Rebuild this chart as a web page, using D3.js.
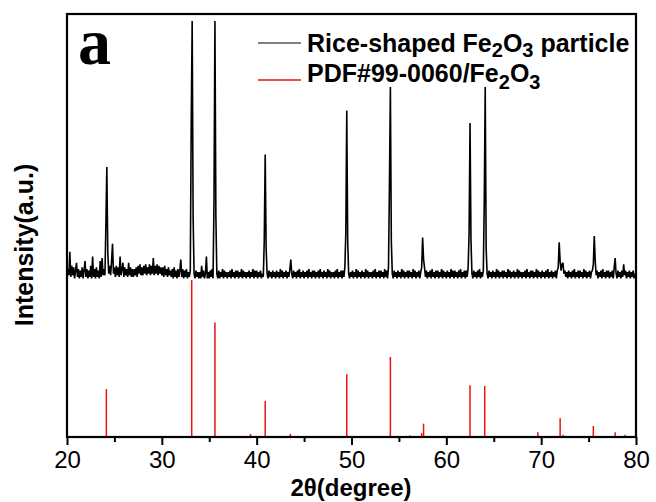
<!DOCTYPE html>
<html>
<head>
<meta charset="utf-8">
<script src="https://cdn.jsdelivr.net/npm/d3@7/dist/d3.min.js"></script>
<style>
  html, body { margin: 0; padding: 0; background: #fff; }
  svg { display: block; }
  text { font-family: "Liberation Sans", Arial, sans-serif; }
</style>
</head>
<body>
<svg id="chart" width="656" height="502"></svg>
<script>
// ---- Data ----
// Measured pattern, 2θ = 20.0 … 80.0 in 0.1° steps (intensity, a.u.)
const sampleStart = 20.0;
const sampleStep = 0.1;
const sampleIntensity = [
  101,107,103,118,102,109,103,108,101,106,
  111,102,107,101,106,102,108,101,106,112,
  102,107,101,106,102,109,101,115,102,107,
  101,108,102,106,101,112,102,114,103,107,
  103,135,172,118,104,109,103,112,123,104,
  108,102,109,103,108,102,115,103,107,111,
  102,108,103,107,102,111,103,108,102,107,
  102,107,103,108,102,109,104,110,103,108,
  103,109,104,110,103,108,104,110,103,109,
  104,114,103,109,104,110,103,109,104,108,
  103,108,102,109,103,107,102,108,103,106,
  102,107,101,108,102,106,101,107,102,106,
  113,102,107,101,106,102,107,101,105,102,
  106,200,265,140,104,101,106,102,105,101,
  105,101,109,102,106,101,104,115,101,105,
  101,106,102,107,101,150,265,140,104,101,
  106,101,105,102,107,101,106,102,105,101,
  105,102,106,101,107,102,105,101,106,102,
  106,101,105,102,107,101,106,102,105,101,
  105,102,106,101,105,102,107,101,106,102,
  106,101,105,102,106,101,104,102,125,180,
  120,104,101,106,102,105,101,106,102,105,
  101,106,102,105,101,107,102,106,101,105,
  102,106,101,105,102,107,113,104,101,106,
  102,105,101,106,102,107,101,105,102,106,
  101,105,102,106,101,107,102,105,101,106,
  102,106,101,105,102,106,101,107,102,105,
  101,106,102,105,101,107,102,106,101,105,
  102,105,101,106,102,107,101,105,102,106,
  101,106,102,108,130,208,125,104,101,105,
  102,106,101,105,102,107,101,106,102,105,
  101,106,102,105,101,107,102,106,101,105,
  102,105,101,106,102,107,101,105,102,106,
  101,106,102,105,101,107,102,106,101,108,
  160,223,125,104,101,106,102,105,101,106,
  102,105,101,107,102,106,101,105,102,106,
  101,106,102,105,101,107,102,106,101,105,
  102,106,101,105,108,127,113,108,102,106,
  101,105,102,106,101,107,102,105,101,106,
  102,106,101,105,102,107,101,106,102,105,
  101,106,102,105,101,107,102,106,101,106,
  102,105,101,106,102,107,101,105,102,106,
  101,106,102,108,130,200,125,104,101,106,
  102,105,101,106,102,107,101,105,102,106,
  150,223,120,104,101,106,102,105,101,106,
  102,105,101,107,102,106,101,105,102,106,
  101,106,102,105,101,107,102,106,101,105,
  102,106,101,105,102,107,101,106,102,105,
  101,105,102,106,101,107,102,105,101,106,
  102,106,101,105,102,107,101,106,102,105,
  101,106,102,105,101,106,102,107,101,105,
  102,106,101,105,102,106,101,106,108,124,
  112,106,110,111,104,106,102,105,101,106,
  102,105,101,106,102,107,101,105,102,106,
  101,106,102,105,101,107,102,106,101,105,
  102,106,101,105,106,110,128,112,103,106,
  101,105,102,106,101,107,102,105,101,106,
  102,106,101,105,102,106,101,108,114,104,
  101,106,102,105,101,106,102,110,103,106,
  101,105,102,106,101,105,102,106,101,104,
  102
];

// Reference card PDF#99-0060 (α-Fe2O3): positions and relative intensities
const refPositions = [24.15, 33.15, 35.6, 39.35, 40.9, 43.55, 49.5, 54.1, 56.2, 57.4, 57.6, 62.5, 64.05, 69.65, 72.0, 72.3, 75.5, 77.8, 78.85];
const refIntensity = [30.5, 100, 73, 2, 23, 2, 40, 51, 1, 2.5, 8.5, 33, 32.5, 3, 12, 1.5, 7, 3, 1.5];

const xMajorTicks = [20, 30, 40, 50, 60, 70, 80];
const xMinorTicks = [25, 35, 45, 55, 65, 75];
const xTickLabels = ["20", "30", "40", "50", "60", "70", "80"];

const legendSample = ["Rice-shaped Fe", "2", "O", "3", " particle"];
const legendRef = ["PDF#99-0060/Fe", "2", "O", "3"];

// ---- Layout ----
const L = 67, R = 636, T = 14, B = 437;
const svg = d3.select("#chart");

const x = d3.scaleLinear().domain([20, 80]).range([L, R]);
const y = d3.scaleLinear().domain([0, 100]).range([B, 280]);

svg.append("defs").append("clipPath").attr("id", "plotclip")
  .append("rect").attr("x", L).attr("y", T).attr("width", R - L).attr("height", B - T);

const plot = svg.append("g").attr("clip-path", "url(#plotclip)");

// Measured pattern
const samplePoints = sampleIntensity.map((v, i) => [sampleStart + i * sampleStep, v]);
const line = d3.line().x(d => x(d[0])).y(d => y(d[1]));
plot.append("path")
  .datum(samplePoints)
  .attr("d", line)
  .attr("fill", "none")
  .attr("stroke", "#000")
  .attr("stroke-width", 1.6)
  .attr("stroke-linejoin", "miter")
  .attr("stroke-miterlimit", 2);

// Reference sticks
plot.selectAll("line.ref")
  .data(refPositions.map((p, i) => ({ p, v: refIntensity[i] })))
  .join("line")
  .attr("class", "ref")
  .attr("x1", d => x(d.p)).attr("x2", d => x(d.p))
  .attr("y1", y(0)).attr("y2", d => y(d.v))
  .attr("stroke", "#ee1111")
  .attr("stroke-width", 1.5);

// Axes
const axisMajor = d3.axisBottom(x)
  .tickValues(xMajorTicks)
  .tickFormat((d, i) => xTickLabels[i])
  .tickSize(8)
  .tickPadding(6);
const gx = svg.append("g").attr("transform", `translate(0,${B})`).call(axisMajor);
gx.select(".domain").remove();
gx.selectAll(".tick line").attr("stroke", "#000").attr("stroke-width", 2);
gx.selectAll(".tick text")
  .attr("fill", "#000")
  .style("font-family", "'Liberation Sans', Arial, sans-serif")
  .style("font-size", "24px");

const axisMinor = d3.axisBottom(x).tickValues(xMinorTicks).tickSize(5).tickFormat("");
const gxm = svg.append("g").attr("transform", `translate(0,${B})`).call(axisMinor);
gxm.select(".domain").remove();
gxm.selectAll(".tick line").attr("stroke", "#000").attr("stroke-width", 2);

// Frame
svg.append("rect")
  .attr("x", L).attr("y", T).attr("width", R - L).attr("height", B - T)
  .attr("fill", "none").attr("stroke", "#000").attr("stroke-width", 2.2);

// Axis titles
svg.append("text")
  .attr("x", 351).attr("y", 496)
  .attr("text-anchor", "middle")
  .style("font-weight", "bold").style("font-size", "24px")
  .text("2θ(degree)");

svg.append("text")
  .attr("transform", "translate(33,245) rotate(-90)")
  .attr("text-anchor", "middle")
  .style("font-weight", "bold").style("font-size", "25px")
  .text("Intensity(a.u.)");

// Panel label
svg.append("text")
  .attr("x", 78).attr("y", 64)
  .style("font-family", "'Liberation Serif', 'Times New Roman', serif")
  .style("font-weight", "bold").style("font-size", "66px")
  .text("a");

// Legend
function legendText(parts, xPos, yPos, subDrop) {
  const t = svg.append("text").attr("x", xPos).attr("y", yPos)
    .style("font-weight", "bold").style("font-size", "25px");
  parts.forEach((p, i) => {
    const isSub = (i % 2 === 1) && /^[0-9]$/.test(p);
    const ts = t.append("tspan").text(p);
    if (isSub) {
      ts.attr("dy", subDrop).style("font-size", "20px");
    } else if (i > 0) {
      ts.attr("dy", -subDrop);
    }
  });
}
svg.append("line").attr("x1", 258).attr("x2", 301).attr("y1", 43).attr("y2", 43)
  .attr("stroke", "#000").attr("stroke-width", 1.2);
legendText(legendSample, 307, 52, 5);
svg.append("line").attr("x1", 258).attr("x2", 301).attr("y1", 80).attr("y2", 80)
  .attr("stroke", "#ee1111").attr("stroke-width", 1.5);
legendText(legendRef, 307, 82, 7);
</script>
</body>
</html>
